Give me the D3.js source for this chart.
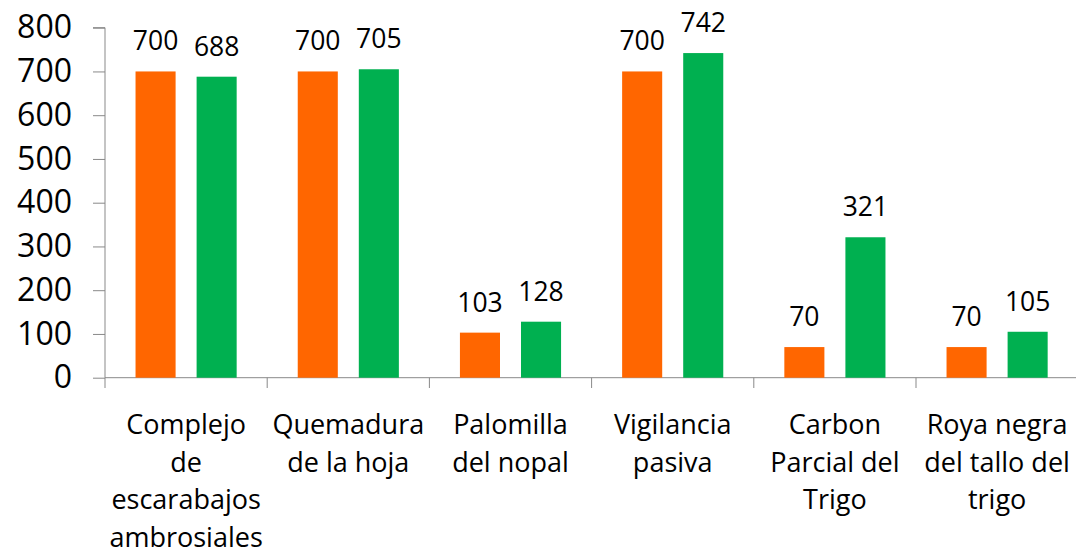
<!DOCTYPE html>
<html><head><meta charset="utf-8">
<script src="https://cdn.jsdelivr.net/npm/d3@7"></script>
<style>
body{margin:0;background:#fff;}
svg{display:block;font-family:"Open Sans", Lato, sans-serif;}
</style></head>
<body><svg id="c" width="1076" height="554"></svg>
<script>
const categories = [
  ["Complejo","de","escarabajos","ambrosiales"],
  ["Quemadura","de la hoja"],
  ["Palomilla","del nopal"],
  ["Vigilancia","pasiva"],
  ["Carbon","Parcial del","Trigo"],
  ["Roya negra","del tallo del","trigo"]
];
const seriesNames = ["Serie 1","Serie 2"];
const serie1 = [700, 700, 103, 700, 70, 70];
const serie2 = [688, 705, 128, 742, 321, 105];
const yTicks = [0,100,200,300,400,500,600,700,800];
const colors = ["#FF6600","#00B050"];

const svg = d3.select("#c");
const x0 = d3.scaleBand().domain(d3.range(categories.length)).range([105, 1078.2]).padding(0);
const x1 = d3.scaleBand().domain(seriesNames).range([0, x0.bandwidth()]).paddingInner(0.344).paddingOuter(0.5);
const y = d3.scaleLinear().domain([0,800]).range([377.7, 27.7]);
const axisColor = "#898989";

// y axis
const yAx = svg.append("g").attr("transform","translate(105,0)")
  .call(d3.axisLeft(y).tickValues(yTicks).tickSize(12).tickPadding(21));
yAx.select(".domain").attr("stroke",axisColor).attr("d","M-12,27.7H0V377.7");
yAx.selectAll(".tick line").attr("stroke",axisColor);
yAx.selectAll(".tick text").attr("font-size",32).attr("fill","#000").attr("font-family","'Open Sans'");

// x axis
const xAx = svg.append("g").attr("transform","translate(0,377.7)")
  .call(d3.axisBottom(x0).tickSize(0).tickFormat(""));
xAx.select(".domain").attr("stroke",axisColor).attr("d","M105,0H1078");
xAx.selectAll(".tick").remove();
const bounds = d3.range(categories.length).map(i => x0(i));
svg.append("g").selectAll("line").data(bounds).join("line")
  .attr("x1",d=>d).attr("x2",d=>d).attr("y1",377.7).attr("y2",388).attr("stroke",axisColor);

// bars
const data = categories.map((c,i)=>[serie1[i], serie2[i]]);
const g = svg.append("g").selectAll("g").data(data).join("g")
  .attr("transform",(d,i)=>`translate(${x0(i)},0)`);
g.selectAll("rect").data(d=>d.map((v,j)=>({v, s:seriesNames[j], j}))).join("rect")
  .attr("x",d=>x1(d.s)).attr("width",x1.bandwidth())
  .attr("y",d=>y(d.v)).attr("height",d=>y(0)-y(d.v))
  .attr("fill",d=>colors[d.j]);
g.selectAll("text").data(d=>d.map((v,j)=>({v, s:seriesNames[j], j}))).join("text")
  .attr("x",d=>x1(d.s)+x1.bandwidth()/2).attr("y",d=>y(d.v)-21)
  .attr("text-anchor","middle").attr("font-size",26.5).attr("fill","#000")
  .text(d=>d.v);

// category labels
const lab = svg.append("g").selectAll("text").data(categories).join("text")
  .attr("text-anchor","middle").attr("font-size",27).attr("fill","#000")
  .attr("transform",(d,i)=>`translate(${x0(i)+x0.bandwidth()/2},0)`);
lab.selectAll("tspan").data(d=>d).join("tspan")
  .attr("x",0).attr("y",(d,k)=>434+k*37.7).text(d=>d);
</script></body></html>
